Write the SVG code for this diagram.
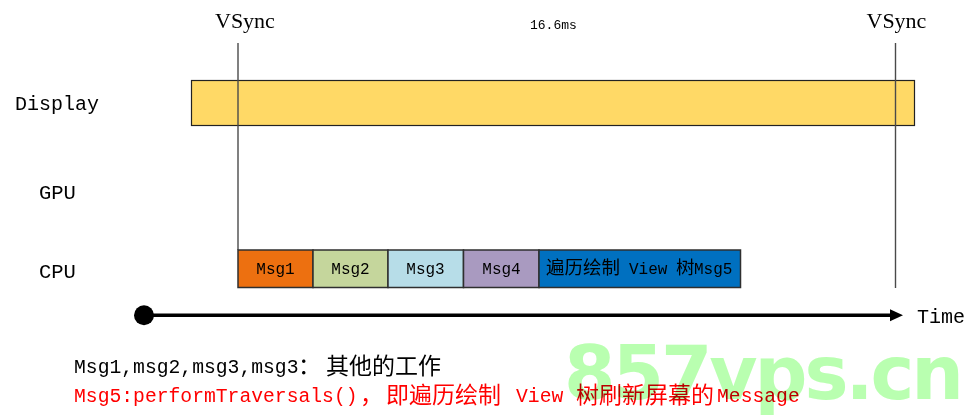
<svg xmlns="http://www.w3.org/2000/svg" width="979" height="419" viewBox="0 0 979 419">
<style>
.m{font-family:"Liberation Mono","Noto Sans CJK SC",monospace;fill:#000}
.s{font-family:"Liberation Serif","Noto Sans CJK SC",serif;fill:#000}
.c{font-family:"Noto Sans CJK SC","Liberation Sans",sans-serif}
.box{stroke:#2f2f2f;stroke-width:1.5}
.lab{font-size:16px;text-anchor:middle}
.vs{stroke:#4a4a4a;stroke-width:1.4;fill:none}
</style>
<defs><marker id="arrow" markerUnits="userSpaceOnUse" markerWidth="14" markerHeight="14" refX="0" refY="7" orient="auto"><path d="M0 1L13 7L0 13Z" fill="#000"/></marker></defs>
<rect width="979" height="419" fill="#fff"/>
<g id="display"><rect x="191.500" y="80.500" width="723" height="45" fill="#ffd966" stroke="#222" stroke-width="1.200"/></g>
<g id="connectors">
<line class="vs" x1="238" y1="43" x2="238" y2="250"/>
<line class="vs" x1="895.500" y1="43" x2="895.500" y2="288"/>
<line x1="146" y1="315.300" x2="890" y2="315.300" stroke="#000" stroke-width="3.500" marker-end="url(#arrow)"/>
<circle cx="144" cy="315.300" r="10" fill="#000"/>
</g>
<g id="msg1"><rect class="box" x="238" y="250" width="75" height="37.500" fill="#ed7010"/><text class="m lab" x="275.500" y="274">Msg1</text></g>
<g id="msg2"><rect class="box" x="313" y="250" width="75" height="37.500" fill="#c5d69c"/><text class="m lab" x="350.500" y="274">Msg2</text></g>
<g id="msg3"><rect class="box" x="388" y="250" width="75.500" height="37.500" fill="#b7dde8"/><text class="m lab" x="425.500" y="274">Msg3</text></g>
<g id="msg4"><rect class="box" x="463.500" y="250" width="75.500" height="37.500" fill="#a99ac0"/><text class="m lab" x="501.500" y="274">Msg4</text></g>
<g id="msg5"><rect class="box" x="539" y="250" width="201.500" height="37.500" fill="#0070c0"/>
<text class="m" font-size="16"><tspan class="c" x="546" y="274" font-size="18.500">遍历绘制</tspan><tspan x="629" y="274">View</tspan><tspan class="c" x="676" y="274" font-size="18.500">树</tspan><tspan x="694" y="274">Msg5</tspan></text></g>
<g id="labels">
<text class="s" x="215" y="28" font-size="22">VSync</text>
<text class="s" x="866.500" y="28" font-size="22">VSync</text>
<text class="m" x="530" y="29" font-size="13">16.6ms</text>
<text class="m" x="15" y="110" font-size="20">Display</text>
<text class="m" x="39" y="199" font-size="20.500">GPU</text>
<text class="m" x="39" y="278" font-size="20.500">CPU</text>
<text class="m" x="917" y="323" font-size="20">Time</text>
</g>
<g id="notes">
<text class="m" font-size="19.700"><tspan x="74" y="373">Msg1,msg2,msg3,msg3</tspan><tspan class="c" x="298" y="374" font-size="23">：</tspan><tspan class="c" x="326" y="374" font-size="23">其他的工作</tspan></text>
<text class="m" font-size="19.700" style="fill:#f00"><tspan x="74" y="402">Msg5:performTraversals()</tspan><tspan class="c" x="360" y="403" font-size="23">，</tspan><tspan class="c" x="386" y="403" font-size="23">即遍历绘制</tspan><tspan x="516" y="402">View</tspan><tspan class="c" x="576" y="403" font-size="23">树刷新屏幕的</tspan><tspan x="717" y="402">Message</tspan></text>
</g>
<text id="watermark" x="564" y="399" font-family="'DejaVu Sans',sans-serif" font-weight="700" font-size="74" fill="#b9ffb0" style="mix-blend-mode:multiply" textLength="400">857vps.cn</text>
</svg>
